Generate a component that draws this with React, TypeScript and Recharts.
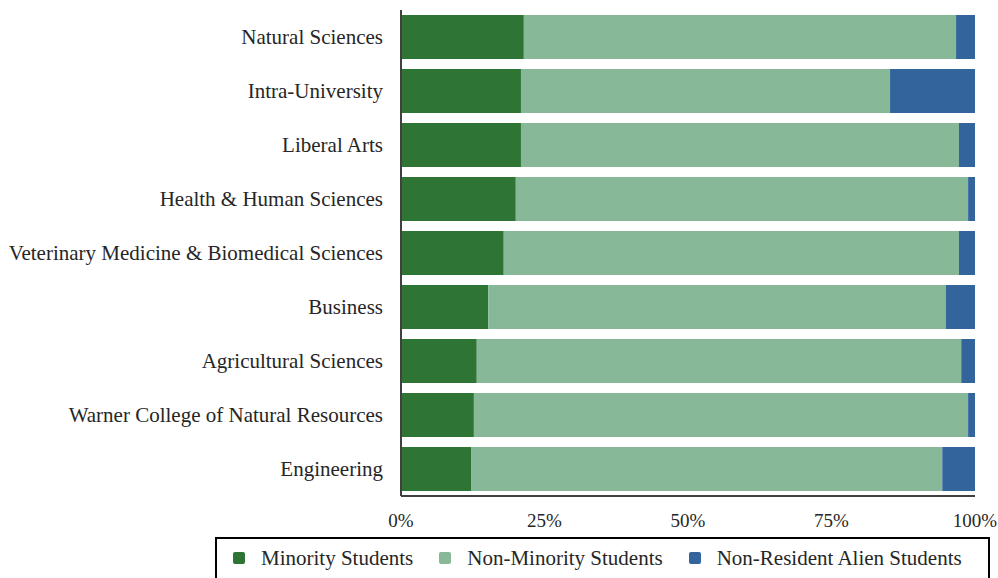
import * as React from "react";
import {
  BarChart,
  Bar,
  XAxis,
  YAxis,
  Legend,
} from "recharts";

const colleges = [
  "Natural Sciences",
  "Intra-University",
  "Liberal Arts",
  "Health & Human Sciences",
  "Veterinary Medicine & Biomedical Sciences",
  "Business",
  "Agricultural Sciences",
  "Warner College of Natural Resources",
  "Engineering",
];

const minority = [21.4, 20.9, 20.9, 20.0, 17.9, 15.2, 13.2, 12.7, 12.2];
const nonMinority = [75.3, 64.3, 76.3, 78.8, 79.3, 79.7, 84.4, 86.1, 82.1];
const nonResident = [3.3, 14.8, 2.8, 1.2, 2.8, 5.1, 2.4, 1.2, 5.7];

const xTicks = [0, 25, 50, 75, 100];

const series = [
  { key: "minority", name: "Minority Students", color: "#2e7535" },
  { key: "nonMinority", name: "Non-Minority Students", color: "#87b898" },
  { key: "nonResident", name: "Non-Resident Alien Students", color: "#33659c" },
];

const data = colleges.map((college, i) => ({
  college,
  minority: minority[i],
  nonMinority: nonMinority[i],
  nonResident: nonResident[i],
}));

const FONT = "'Liberation Serif', 'Times New Roman', serif";

const LegendBox = () => (
  <div
    style={{
      boxSizing: "border-box",
      width: 775,
      height: 50,
      marginLeft: 215,
      border: "2px solid #000",
      display: "flex",
      alignItems: "center",
      paddingLeft: 16,
      paddingBottom: 8,
      fontFamily: FONT,
      fontSize: 21,
      color: "#262626",
      whiteSpace: "nowrap",
      overflow: "hidden",
    }}
  >
    {series.map((s) => (
      <div
        key={s.key}
        style={{ display: "flex", alignItems: "center", marginRight: 26, flexShrink: 0 }}
      >
        <span
          style={{
            display: "inline-block",
            width: 12,
            height: 12,
            borderRadius: 2,
            background: s.color,
            marginRight: 16,
            flexShrink: 0,
          }}
        />
        <span>{s.name}</span>
      </div>
    ))}
  </div>
);

export default function App() {
  return (
    <div style={{ position: "absolute", left: 0, top: 0, width: 998, height: 578, overflow: "hidden", background: "#fff" }}>
      <BarChart
        width={998}
        height={578}
        data={data}
        layout="vertical"
        margin={{ top: 10, right: 23, left: 0, bottom: 0 }}
        barSize={44}
      >
        <XAxis
          type="number"
          domain={[0, 100]}
          ticks={xTicks}
          tickFormatter={(v) => `${v}%`}
          tickSize={0}
          tickMargin={18}
          height={41}
          axisLine={{ stroke: "#404040", strokeWidth: 2 }}
          tick={{ fontSize: 19, fill: "#262626", fontFamily: FONT }}
        />
        <YAxis
          type="category"
          dataKey="college"
          width={401}
          tickSize={0}
          tickMargin={18}
          axisLine={{ stroke: "#404040", strokeWidth: 2 }}
          tick={{ fontSize: 21, fill: "#262626", fontFamily: FONT }}
          interval={0}
        />
        <Legend
          verticalAlign="bottom"
          height={41}
          content={() => <LegendBox />}
          wrapperStyle={{ left: 0, width: 998 }}
        />
        {series.map((s) => (
          <Bar
            key={s.key}
            dataKey={s.key}
            name={s.name}
            stackId="a"
            fill={s.color}
            isAnimationActive={false}
          />
        ))}
      </BarChart>
    </div>
  );
}
